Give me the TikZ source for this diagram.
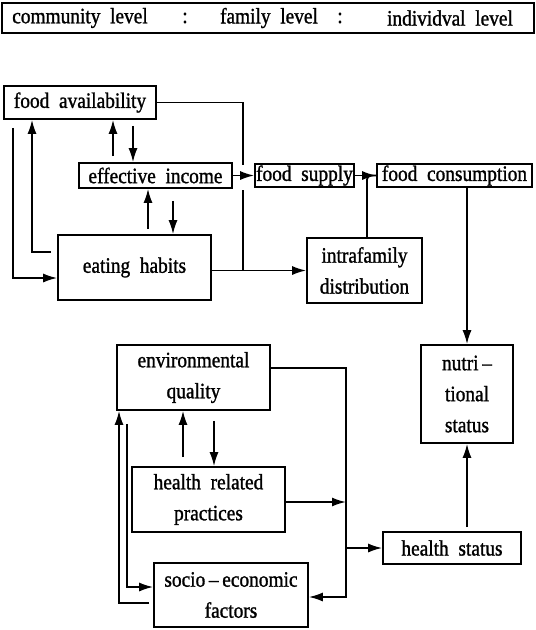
\documentclass[tikz,border=0pt]{standalone}
\usepackage{fontspec}
\setmainfont[WordSpace=2.0, FakeStretch=0.88, FakeBold=1.2]{Liberation Serif}
\usetikzlibrary{arrows.meta,positioning}

\tikzset{
	blk/.style={draw, line width=1.6pt, inner sep=0pt, align=center, font=\fontsize{22}{31}\selectfont},
	lvl/.style={inner sep=0pt, font=\fontsize{22}{24}\selectfont},
	arr/.style={-{Latex[length=14pt,width=9pt]}, line width=1.8pt},
	lnk/.style={line width=1.8pt}
}

\begin{document}
\begin{tikzpicture}[x=1pt, y=-1pt]
	\useasboundingbox (0,0) rectangle (536,630);
	% levels
	\node[blk, minimum width=532pt, minimum height=30pt] (lev) at (268,18) {};
	\node[lvl] (com) at (80,18) {community level};
	\node[lvl] (c1) at (185,18) {:};
	\node[lvl] (fam) at (269,18) {family level};
	\node[lvl] (c2) at (340,18) {:};
	\node[lvl] (ind) at (450,18) {individval level};

	\node[blk, minimum width=152pt, minimum height=33pt] (fa) at (80,102.5) {food availability};
	\node[blk, minimum width=153pt, minimum height=25pt] (ei) at (155.5,175.5) {effective income};
	\node[blk, minimum width=99pt, minimum height=23pt] (fs) at (304.5,175.5) {food supply};
	\node[blk, minimum width=155pt, minimum height=23pt] (fc) at (454.5,175.5) {food consumption};
	\node[blk, minimum width=153pt, minimum height=65pt] (eh) at (134.5,267.5) {eating habits};
	\node[blk, minimum width=115pt, minimum height=65pt] (id) at (364.5,270.5) {intrafamily\\distribution};
	\node[blk, minimum width=92pt, minimum height=98pt] (ns) at (467,394) {nutri\,--\\tional\\status};
	\node[blk, minimum width=153pt, minimum height=65pt] (eq) at (193.5,377.5) {environmental\\quality};
	\node[blk, minimum width=153pt, minimum height=65pt] (hrp) at (208.5,499.5) {health related\\practices};
	\node[blk, minimum width=138pt, minimum height=32pt] (hs) at (452,548) {health status};
	\node[blk, minimum width=154pt, minimum height=64pt] (sef) at (231,595) {socio\,--\,economic\\factors};

	\coordinate (lnA) at (243,165);
	\coordinate (lnB) at (243,190);
	\coordinate (rail) at (346,368);

	% food side
	\draw[arr, shorten <=6pt] ([xshift=-42.5pt]ei.north) -- ([xshift=-42.5pt]ei.north |- fa.south);
	\draw[arr, shorten <=6pt] ([xshift=-22.5pt]ei.north |- fa.south) -- ([xshift=-22.5pt]ei.north);
	\draw[arr, shorten <=5pt] ([xshift=-7.5pt]ei.south |- eh.north) -- ([xshift=-7.5pt]ei.south);
	\draw[arr, shorten <=12pt] ([xshift=17.5pt]ei.south) -- ([xshift=17.5pt]ei.south |- eh.north);
	\draw[arr, shorten <=8pt] ([xshift=-67pt]fa.south) |- ([yshift=-10.5pt]eh.west);
	\draw[arr, shorten <=6pt] ([yshift=15.5pt]eh.west) -| ([xshift=-48pt]fa.south);
	\draw[lnk] (fa.east) -| (lnA);
	\draw[lnk] (lnB) -- (id.west -| lnB);
	\draw[arr] (eh.east |- id.west) -- (id.west);
	\draw[arr] (ei.east) -- (ei.east -| fs.west);
	\draw[arr] (fs.east) -- (fs.east -| fc.west);
	\draw[lnk, rounded corners=4pt] ([xshift=2.5pt]id.north) |- (fc.west);
	\draw[arr] (fc.south -| ns.north) -- (ns.north);

	% health side
	\draw[arr, shorten <=9pt] ([xshift=-10.5pt]eq.south |- hrp.north) -- ([xshift=-10.5pt]eq.south);
	\draw[arr, shorten <=10pt] ([xshift=20.5pt]eq.south) -- ([xshift=20.5pt]eq.south |- hrp.north);
	\draw[arr, shorten <=13pt] ([xshift=-66.5pt]eq.south) |- ([yshift=8pt]sef.west);
	\draw[arr, shorten <=4pt] ([yshift=-8pt]sef.west) -| ([xshift=-74.5pt]eq.south);
	\draw[arr] ([yshift=9.5pt]eq.east) -| ([yshift=-2pt]sef.east -| rail) -- ([yshift=-2pt]sef.east);
	\draw[arr] ([yshift=-2.5pt]hrp.east) -- ([yshift=-2.5pt]hrp.east -| rail);
	\draw[arr] (hs.west -| rail) -- (hs.west);
	\draw[arr, shorten <=4pt] (hs.north -| ns.south) -- (ns.south);
\end{tikzpicture}
\end{document}
